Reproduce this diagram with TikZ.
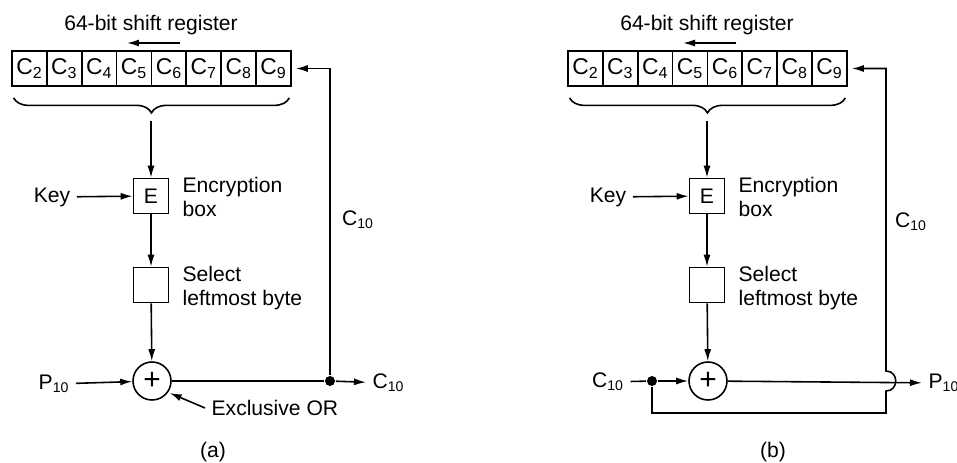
\documentclass[tikz,border=0pt]{standalone}
\usepackage{fontspec}
\setmainfont{Liberation Sans}
\usetikzlibrary{arrows.meta,positioning,decorations.pathreplacing}

\begin{document}
\begin{tikzpicture}[
  x=0.02cm, y=-0.02cm,
  font=\fontsize{12}{14}\selectfont,
  line width=0.9pt,
  >={Latex[length=2.4mm,width=1.4mm]},
  cell/.style={draw, minimum width=6.975mm, minimum height=7mm, inner sep=0pt, line width=1pt,
    font=\fontsize{13}{14}\selectfont},
  box/.style={draw, minimum width=7mm, minimum height=7mm, inner sep=0pt},
  xor/.style={draw, circle, minimum size=7.6mm, inner sep=0pt, font=\fontsize{17}{17}\selectfont},
  note/.style={align=left, anchor=west},
  dot/.style={circle, fill, inner sep=0pt, minimum size=2mm}
]
\useasboundingbox (0,0) rectangle (957,463);

% upper part, the same in both panels
\foreach \p/\dx in {a/0, b/556} {
  \begin{scope}[shift={(\dx,0)}]
    \node (\p title) at (151,25) {64-bit shift register};
    \coordinate (\p sr) at (180,43);
    \coordinate (\p sl) at (127,43);
    \draw[->] (\p sr) -- (\p sl);
    \foreach \i in {2,...,9}
      \node[cell] (\p c\i) at ({29.4+34.875*(\i-2)},68.5) {C\textsubscript{\i}};
    \draw[decorate, decoration={brace, amplitude=3mm}]
      ([xshift=-0.5mm, yshift=-2.2mm]\p c9.south east) -- ([xshift=0.5mm, yshift=-2.2mm]\p c2.south west);
    \coordinate (\p tip) at (151,121);
    \node[box] (\p enc) at (151,196) {E};
    \draw[->] (\p tip) -- (\p enc);
    \node (\p key) at (52,197) {Key};
    \draw[->] (\p key) -- (\p enc);
    \node[note] (\p enctext) at (176,197) {Encryption\\box};
    \node[box] (\p sel) at (151,285) {};
    \node[note] (\p seltext) at (176,288) {Select\\leftmost byte};
    \draw[->] (\p enc) -- (\p sel);
    \node[xor] (\p xor) at (152,381) {+};
    \draw[->] (\p sel) -- (\p xor);
  \end{scope}
}

% (a) encryption
\node (ap) at (54,384) {P\textsubscript{10}};
\draw[->] (ap) -- (axor);
\node[dot] (adot) at (330,381) {};
\node[anchor=west] (aout) at (366,383) {C\textsubscript{10}};
\draw (axor) -- (adot);
\draw[->] (adot) -- (aout);
\draw[->, shorten >=0.8mm] (adot) |- (ac9);
\node (afb) at (358,220) {C\textsubscript{10}};
\node[anchor=west] (aexor) at (205,408) {Exclusive OR};
\draw[->, shorten >=0.3mm] (aexor.west) -- (axor.-35);
\node (alab) at (213,452) {(a)};

% (b) decryption
\node (bc) at (608,382) {C\textsubscript{10}};
\node[dot] (bdot) at (652,381) {};
\draw (bc) -- (bdot);
\draw[->] (bdot) -- (bxor);
\node[anchor=west] (bout) at (922,383) {P\textsubscript{10}};
\draw[->] (bxor) -- (bout);
\coordinate (bturn) at (652,413);
\coordinate (bcorner) at (886,413);
\coordinate (bjlow) at (886,391);
\coordinate (bjhigh) at (886,371);
\draw[->, shorten >=0.8mm] (bdot) -- (bturn) -- (bcorner) -- (bjlow)
  .. controls (899,391) and (899,371) .. (bjhigh) |- (bc9);
\node (bfb) at (911,222) {C\textsubscript{10}};
\node (blab) at (773,452) {(b)};
\end{tikzpicture}
\end{document}
